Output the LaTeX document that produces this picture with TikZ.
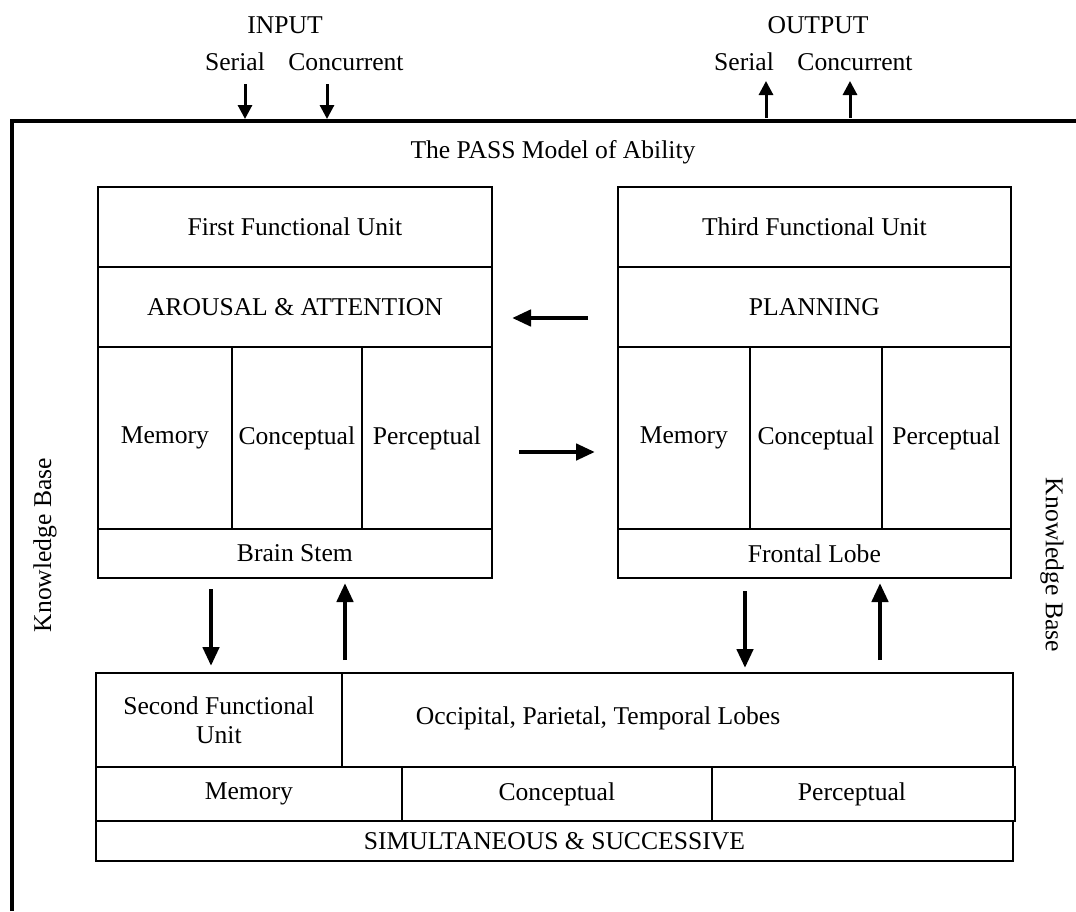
\documentclass[tikz,border=0pt]{standalone}
\usepackage{fontspec}
\setmainfont{Liberation Serif}
\usetikzlibrary{arrows.meta}
\begin{document}
\begin{tikzpicture}[x=1pt,y=-1pt,
  txt/.style={font=\fontsize{25.6}{29}\selectfont, inner sep=0pt},
  cell/.style={draw, line width=1.8pt, anchor=north west, inner sep=0pt, font=\fontsize{25.6}{29}\selectfont, align=center},
  frame/.style={line width=4pt},
  bigarrow/.style={line width=4.5pt, -{Triangle[length=19pt,width=16pt]}},
  smallarrow/.style={line width=3pt, -{Triangle[length=14pt,width=14pt]}}]
\useasboundingbox (0,0) rectangle (1076,911);
% outer frame
\coordinate (fbl) at (12,911);
\coordinate (ftl) at (12,121);
\coordinate (ftr) at (1076,121);
\draw[frame] (fbl) -- (ftl) -- (ftr);
% top labels
\node[txt] (input) at (285,25) {INPUT};
\node[txt] (inser) at (235,62) {Serial};
\node[txt] (incon) at (346,62) {Concurrent};
\node[txt] (output) at (818,25) {OUTPUT};
\node[txt] (outser) at (744,62) {Serial};
\node[txt] (outcon) at (855,62) {Concurrent};
\node[txt] (title) at (553,152) {The PASS Model of Ability};
\node[txt, rotate=90] (kbl) at (45,545) {Knowledge Base};
\node[txt, rotate=-90] (kbr) at (1052,565) {Knowledge Base};
% left box
\node[cell, minimum width=394pt, minimum height=80pt] (fu1) at (97,186) {First Functional Unit};
\node[cell, minimum width=394pt, minimum height=80pt] (aa) at (97,266) {AROUSAL \& ATTENTION};
\node[cell, minimum width=134pt, minimum height=182pt] (lm) at (97,346) {Memory};
\node[cell, minimum width=130pt, minimum height=182pt] (lc) at (231,346) {Conceptual};
\node[cell, minimum width=130pt, minimum height=182pt] (lp) at (361,346) {Perceptual};
\node[cell, minimum width=394pt, minimum height=49pt] (bs) at (97,528) {Brain Stem};
% right box
\node[cell, minimum width=393pt, minimum height=80pt] (fu3) at (617,186) {Third Functional Unit};
\node[cell, minimum width=393pt, minimum height=80pt] (pl) at (617,266) {PLANNING};
\node[cell, minimum width=132pt, minimum height=182pt] (rm) at (617,346) {Memory};
\node[cell, minimum width=132pt, minimum height=182pt] (rc) at (749,346) {Conceptual};
\node[cell, minimum width=129pt, minimum height=182pt] (rp) at (881,346) {Perceptual};
\node[cell, minimum width=393pt, minimum height=49pt] (fl) at (617,528) {Frontal Lobe};
% bottom box
\node[cell, minimum width=246pt, minimum height=94pt] (fu2) at (95,672) {Second Functional\\Unit};
\node[cell, minimum width=671pt, minimum height=94pt] (lobes) at (341,672) {};
\node[txt] (lobestxt) at (598,718) {Occipital, Parietal, Temporal Lobes};
\node[cell, minimum width=306pt, minimum height=54pt] (bm) at (95,766) {Memory};
\node[cell, minimum width=310pt, minimum height=54pt] (bc) at (401,766) {Conceptual};
\node[cell, minimum width=303pt, minimum height=54pt] (bp) at (711,766) {};
\node[txt] (bptxt) at (852,794) {Perceptual};
\node[cell, minimum width=917pt, minimum height=40pt] (ss) at (95,820) {SIMULTANEOUS \& SUCCESSIVE};
% arrow end points
\coordinate (i1a) at (245,84);  \coordinate (i1b) at (245,119);
\coordinate (i2a) at (327,84);  \coordinate (i2b) at (327,119);
\coordinate (o1a) at (766,118); \coordinate (o1b) at (766,81);
\coordinate (o2a) at (850,118); \coordinate (o2b) at (850,81);
\coordinate (h1a) at (588,318); \coordinate (h1b) at (512,318);
\coordinate (h2a) at (519,452); \coordinate (h2b) at (595,452);
\coordinate (v1a) at (211,589); \coordinate (v1b) at (211,666);
\coordinate (v2a) at (345,660); \coordinate (v2b) at (345,583);
\coordinate (v3a) at (745,591); \coordinate (v3b) at (745,668);
\coordinate (v4a) at (880,660); \coordinate (v4b) at (880,583);
\draw[smallarrow] (i1a) -- (i1b);
\draw[smallarrow] (i2a) -- (i2b);
\draw[smallarrow] (o1a) -- (o1b);
\draw[smallarrow] (o2a) -- (o2b);
\draw[bigarrow] (h1a) -- (h1b);
\draw[bigarrow] (h2a) -- (h2b);
\draw[bigarrow] (v1a) -- (v1b);
\draw[bigarrow] (v2a) -- (v2b);
\draw[bigarrow] (v3a) -- (v3b);
\draw[bigarrow] (v4a) -- (v4b);
\end{tikzpicture}
\end{document}
